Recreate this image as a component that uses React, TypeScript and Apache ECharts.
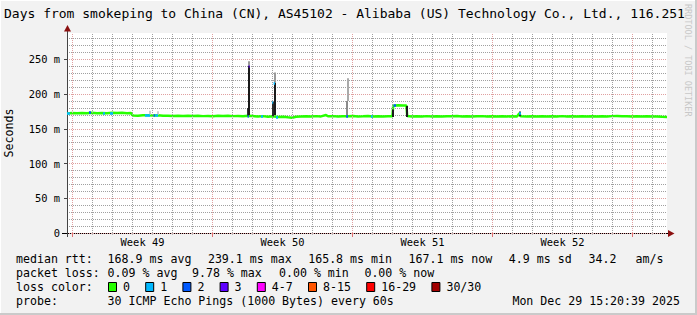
import React, { useEffect, useRef } from "react";
import * as echarts from "echarts";

const MONO = "'DejaVu Sans Mono', 'Liberation Mono', monospace";

const TITLE = "Days from smokeping to China (CN), AS45102 - Alibaba (US) Technology Co., Ltd., 116.251";
const WATERMARK = "RRDTOOL / TOBI OETIKER";

// x axis in days since the left edge of the plot (30 days shown)
const weekLabels = ["Week 49", "Week 50", "Week 51", "Week 52"];
const weekLabelDays = [3.775, 10.775, 17.775, 24.775];
const weekStartDays = [0.275, 7.275, 14.275, 21.275, 28.275];
const dayLineDays = [
  1.275, 2.275, 3.275, 4.275, 5.275, 6.275, 8.275, 9.275,
  10.275, 11.275, 12.275, 13.275, 15.275, 16.275, 17.275, 18.275, 19.275,
  20.275, 22.275, 23.275, 24.275, 25.275, 26.275, 27.275, 29.275,
];
const allDayTicks = [
  0.275, 1.275, 2.275, 3.275, 4.275, 5.275, 6.275, 7.275, 8.275, 9.275,
  10.275, 11.275, 12.275, 13.275, 14.275, 15.275, 16.275, 17.275, 18.275, 19.275,
  20.275, 21.275, 22.275, 23.275, 24.275, 25.275, 26.275, 27.275, 28.275, 29.275,
];

// median RTT (ms)
const rttDays = [
  0.0, 0.25, 0.5, 0.75, 1.0, 1.25, 1.5, 1.75, 2.0, 2.25, 2.5, 2.75, 3.0, 3.2, 3.25, 3.3,
  3.55, 3.8, 4.05, 4.3, 4.55, 4.8, 5.05, 5.3, 5.55, 5.8, 6.05, 6.3, 6.55, 6.8, 7.05, 7.3,
  7.55, 7.8, 8.05, 8.3, 8.55, 8.8, 9.05, 9.3, 9.55, 9.8, 10.05, 10.3, 10.55, 10.8, 11.05,
  11.25, 11.45, 11.7, 11.95, 12.2, 12.45, 12.7, 12.95, 13.05, 13.3, 13.55, 13.8, 14.05,
  14.3, 14.55, 14.8, 15.05, 15.3, 15.55, 15.8, 16.05, 16.27, 16.31, 16.55, 16.8, 16.97,
  17.01, 17.25, 17.5, 17.75, 18.0, 18.25, 18.5, 18.75, 19.0, 19.25, 19.5, 19.75, 20.0,
  20.25, 20.5, 20.75, 21.0, 21.25, 21.5, 21.75, 22.0, 22.25, 22.5, 22.62, 22.68, 23.0,
  23.25, 23.5, 23.75, 24.0, 24.25, 24.5, 24.75, 25.0, 25.25, 25.5, 25.75, 26.0, 26.25,
  26.5, 26.75, 27.0, 27.25, 27.5, 27.75, 28.0, 28.25, 28.5, 28.75, 29.0, 29.25, 29.5,
  29.75, 30.0,
];
const rttMedian = [
  172.2, 172.8, 172.3, 172.9, 172.6, 173.2, 172.5, 172.8, 172.4, 173.0, 172.7, 173.1, 172.6, 172.9, 170.5, 169.2,
  169.0, 169.4, 169.7, 169.3, 169.6, 168.8, 169.0, 168.6, 168.9, 168.5, 168.8, 168.4, 168.7, 168.3, 168.6, 168.2,
  168.7, 168.4, 168.8, 168.3, 168.6, 168.2, 168.8, 168.4, 167.6, 168.3, 167.5, 168.0, 166.9, 167.4, 166.6,
  166.0, 167.5, 167.9, 168.2, 167.8, 168.3, 167.9, 169.8, 168.1, 168.3, 167.9, 168.2, 168.0,
  168.4, 167.8, 168.1, 168.6, 167.9, 168.2, 167.8, 168.1, 168.0, 183.2, 183.8, 183.5, 183.6,
  168.5, 167.9, 168.2, 167.8, 168.3, 167.9, 168.1, 167.7, 168.2, 168.0, 168.4, 167.8, 168.1,
  167.6, 168.0, 168.3, 167.9, 168.2, 167.7, 168.1, 167.8, 168.2, 167.9, 172.5, 168.0, 167.7,
  168.1, 167.8, 168.2, 167.6, 168.0, 167.8, 168.3, 167.9, 168.1, 167.7, 168.2, 167.8, 168.0,
  167.6, 168.1, 167.9, 168.3, 168.5, 168.0, 168.2, 167.8, 168.1, 167.7, 168.0, 167.6, 167.9,
  167.3, 167.1,
];

// smoke (spread of the pings), one vertical stroke per entry
const smokeDays = [4.15, 4.55, 9.035, 9.1, 9.1, 10.285, 10.365, 10.365, 13.965, 14.015, 16.28, 16.985, 22.65];
const smokeLow = [170.2, 170.2, 169.0, 170.0, 240.5, 168.0, 170.0, 216.0, 168.0, 190.0, 167.0, 167.0, 168.0];
const smokeHigh = [176.0, 175.5, 180.0, 240.5, 247.5, 189.0, 216.0, 231.0, 190.0, 223.0, 178.0, 183.0, 175.0];
const smokeShade = ["#cccccc", "#cccccc", "#333333", "#1a1a1a", "#9a9a9a", "#2a2a2a", "#1a1a1a", "#9a9a9a", "#8a8a8a", "#aaaaaa", "#1a1a1a", "#1a1a1a", "#333333"];

// median segments coloured by packet loss class (index into lossColors)
const markStart = [0.0, 1.1, 1.8, 2.15, 3.9, 4.33, 4.42, 9.03, 9.08, 9.7, 10.26, 10.33, 10.45, 13.96, 15.2, 16.33, 22.6];
const markEnd = [0.15, 1.2, 1.9, 2.3, 4.15, 4.4, 4.55, 9.09, 9.13, 9.8, 10.31, 10.4, 10.55, 14.05, 15.28, 16.45, 22.7];
const markMs = [172.4, 173.2, 172.6, 172.8, 169.6, 169.6, 169.5, 168.5, 240.0, 168.4, 189.0, 216.0, 167.2, 168.3, 168.6, 183.4, 173.0];
const markLoss = [1, 2, 1, 1, 1, 2, 1, 2, 3, 1, 1, 1, 1, 2, 1, 2, 1];

const yTickStep = 50;
const yMinorStep = 10;
const yMax = 288;

const rttStatValues = ["168.9", "239.1", "165.8", "167.1", "4.9"];
const rttStatNames = ["ms avg", "ms max", "ms min", "ms now", "ms sd"];
const amsValue = "34.2";
const lossStatValues = ["0.09", "9.78", "0.00", "0.00"];
const lossStatNames = ["% avg", "% max", "% min", "% now"];
const lossLabels = ["0", "1", "2", "3", "4-7", "8-15", "16-29", "30/30"];
const lossColors = ["#26ff00", "#00b8ff", "#0059ff", "#5e00ff", "#ff00ff", "#ff5500", "#ff0000", "#a10000"];
const probeText = "30 ICMP Echo Pings (1000 Bytes) every 60s";
const dateText = "Mon Dec 29 15:20:39 2025";

const GRID_GRAY = "#a0a0a0";
const GRID_RED = "#e0a0a0";

function txt(text: string, x: number, y: number, size: number, extra: any = {}) {
  return {
    type: "text",
    x,
    y,
    silent: true,
    z: 100,
    style: {
      text,
      fontSize: size,
      fontFamily: MONO,
      fill: extra.fill || "#000",
      align: extra.align || "left",
      textAlign: extra.align || "left",
      verticalAlign: "middle",
      textVerticalAlign: "middle",
    },
    rotation: extra.rotation || 0,
  };
}

export default function App() {
  const ref = useRef<HTMLDivElement>(null);

  useEffect(() => {
    if (!ref.current) return;
    const chart = echarts.init(ref.current, null, { renderer: "svg" });

    const legendSize = 11.6;
    const g: any[] = [];
    g.push(txt(TITLE, 4, 13, 13));
    g.push(txt(WATERMARK, 688, 4, 8.5, { fill: "#c8c8c8", rotation: -Math.PI / 2 }));

    // row 1
    const r1 = 259;
    g.push(txt("median rtt:", 16, r1, legendSize));
    const r1x = [107.6, 207.9, 308.2, 408.5, 508.8];
    rttStatValues.forEach((v, i) => g.push(txt(v + " " + rttStatNames[i], r1x[i], r1, legendSize)));
    g.push(txt(amsValue, 588.5, r1, legendSize));
    g.push(txt("am/s", 635.6, r1, legendSize));
    // row 2
    const r2 = 273;
    g.push(txt("packet loss:", 16, r2, legendSize));
    const r2x = [107.6, 192, 279, 364.4];
    lossStatValues.forEach((v, i) => g.push(txt(v + " " + lossStatNames[i], r2x[i], r2, legendSize)));
    // row 3
    const r3 = 287;
    g.push(txt("loss color:", 16, r3, legendSize));
    let bx = 108;
    lossLabels.forEach((lab, i) => {
      g.push({
        type: "rect",
        silent: true,
        z: 100,
        shape: { x: bx + 0.5, y: r3 - 4.5, width: 8, height: 9 },
        style: { fill: lossColors[i], stroke: "#000", lineWidth: 1 },
      });
      g.push(txt(lab, bx + 15, r3, legendSize));
      bx = bx + 15 + lab.length * 7.0 + 15.2;
    });
    // row 4
    const r4 = 301;
    g.push(txt("probe:", 16, r4, legendSize));
    g.push(txt(probeText, 107.6, r4, legendSize));
    g.push(txt(dateText, 512.4, r4, legendSize));

    // axis extensions and arrows
    g.push({ type: "line", silent: true, z: 90, shape: { x1: 67.5, y1: 33, x2: 67.5, y2: 28 }, style: { stroke: "#444", lineWidth: 1 } });
    g.push({ type: "line", silent: true, z: 90, shape: { x1: 67.5, y1: 233, x2: 67.5, y2: 237 }, style: { stroke: "#444", lineWidth: 1 } });
    g.push({ type: "line", silent: true, z: 90, shape: { x1: 62, y1: 233.5, x2: 67, y2: 233.5 }, style: { stroke: "#000", lineWidth: 1 } });
    g.push({ type: "line", silent: true, z: 90, shape: { x1: 667, y1: 233.5, x2: 669, y2: 233.5 }, style: { stroke: "#000", lineWidth: 1 } });
    g.push({ type: "polygon", silent: true, z: 91, shape: { points: [[64, 31.5], [67.5, 25], [71, 31.5]] }, style: { fill: "#8b1010" } });
    g.push({ type: "polygon", silent: true, z: 91, shape: { points: [[668, 230], [674.5, 233.5], [668, 237]] }, style: { fill: "#8b1010" } });

    // 3D border of the image
    g.push({ type: "rect", silent: true, z: 95, shape: { x: 0, y: 0, width: 697, height: 1 }, style: { fill: "#ffffff" } });
    g.push({ type: "rect", silent: true, z: 95, shape: { x: 0, y: 0, width: 1, height: 315 }, style: { fill: "#ffffff" } });
    g.push({ type: "rect", silent: true, z: 95, shape: { x: 0, y: 313, width: 697, height: 2 }, style: { fill: "#cacaca" } });
    g.push({ type: "rect", silent: true, z: 95, shape: { x: 695, y: 0, width: 2, height: 315 }, style: { fill: "#cacaca" } });

    const nearestWeek = (v: number) => {
      for (let i = 0; i < weekLabelDays.length; i++) {
        if (Math.abs(weekLabelDays[i] - v) < 0.01) return weekLabels[i];
      }
      return "";
    };

    const lossSegs: any[] = lossColors.map(() => [] as any[]);
    markStart.forEach((s, i) => {
      lossSegs[markLoss[i]].push({ coords: [[s, markMs[i]], [markEnd[i], markMs[i]]] });
    });

    const vGridLines = [
      ...dayLineDays.map((d) => ({ xAxis: d, lineStyle: { color: GRID_GRAY, width: 1, type: [1, 1], opacity: 1 } })),
      ...weekStartDays.map((d) => ({ xAxis: d, lineStyle: { color: GRID_RED, width: 1, type: [1, 1], opacity: 1 } })),
    ];

    const option: any = {
      animation: false,
      backgroundColor: "#f2f2f2",
      textStyle: { fontFamily: MONO },
      grid: {
        left: 67,
        right: 30,
        top: 33,
        bottom: 82,
        show: true,
        z: -1,
        backgroundColor: "#ffffff",
        borderWidth: 0,
        containLabel: false,
        outerBoundsMode: "none",
      },
      xAxis: [
        {
          type: "value",
          min: 0,
          max: 30,
          position: "bottom",
          z: 1,
          axisLine: { show: true, onZero: false, lineStyle: { color: "#000", width: 1 } },
          axisTick: { show: true, customValues: allDayTicks, length: 2, lineStyle: { color: "#bbbbbb" } },
          axisLabel: { show: false },
          splitLine: { show: false },
        },
        {
          type: "value",
          min: 0,
          max: 30,
          position: "bottom",
          z: 2,
          axisLine: { show: false, onZero: false },
          axisTick: { show: true, customValues: weekStartDays, length: 4, lineStyle: { color: "#e07070" } },
          axisLabel: {
            show: true,
            customValues: weekLabelDays,
            formatter: (v: number) => nearestWeek(v),
            fontSize: 10.4,
            fontFamily: MONO,
            color: "#000",
            margin: 4,
          },
          splitLine: { show: false },
        },
      ],
      yAxis: [
        {
          type: "value",
          min: 0,
          max: yMax,
          interval: yMinorStep,
          position: "left",
          z: 1,
          axisLine: { show: false },
          axisTick: { show: false },
          axisLabel: { show: false },
          splitLine: { show: true, showMaxLine: false, lineStyle: { color: GRID_GRAY, width: 1, type: [1, 1] } },
        },
        {
          type: "value",
          min: 0,
          max: yMax,
          interval: yTickStep,
          position: "left",
          z: 2,
          name: "Seconds",
          nameLocation: "middle",
          nameRotate: 90,
          nameGap: 52,
          nameTextStyle: { fontSize: 11.6, fontFamily: MONO, color: "#000" },
          axisLine: { show: true, onZero: false, lineStyle: { color: "#444", width: 1 } },
          axisTick: { show: true, length: 3, lineStyle: { color: "#444" } },
          axisLabel: {
            fontSize: 10.4,
            fontFamily: MONO,
            color: "#000",
            margin: 7,
            showMaxLabel: false,
            formatter: (v: number) => (v === 0 ? "0" : v + " m"),
          },
          splitLine: { show: true, showMaxLine: false, lineStyle: { color: GRID_RED, width: 1, type: [1, 1] } },
        },
      ],
      series: [
        {
          type: "line",
          name: "grid",
          xAxisIndex: 0,
          yAxisIndex: 1,
          data: [],
          silent: true,
          z: 1,
          markLine: {
            silent: true,
            symbol: ["none", "none"],
            label: { show: false },
            emphasis: { disabled: true },
            animation: false,
            lineStyle: { color: GRID_GRAY, width: 1, type: [1, 1], opacity: 1 },
            data: vGridLines,
          },
        },
        {
          type: "line",
          name: "median",
          xAxisIndex: 0,
          yAxisIndex: 1,
          data: rttDays.map((d, i) => [d, rttMedian[i]]),
          showSymbol: false,
          symbol: "none",
          silent: true,
          z: 4,
          lineStyle: { color: lossColors[0], width: 2.5 },
        },
        {
          type: "lines",
          name: "smoke",
          coordinateSystem: "cartesian2d",
          xAxisIndex: 0,
          yAxisIndex: 1,
          silent: true,
          z: 5,
          lineStyle: { width: 2, opacity: 1 },
          data: smokeDays.map((d, i) => ({
            coords: [[d, smokeLow[i]], [d, smokeHigh[i]]],
            lineStyle: { color: smokeShade[i], width: 2, opacity: 1 },
          })),
        },
        ...lossSegs.map((segs, k) => ({
          type: "lines",
          name: "loss" + k,
          coordinateSystem: "cartesian2d",
          xAxisIndex: 0,
          yAxisIndex: 1,
          silent: true,
          z: 6,
          lineStyle: { color: lossColors[k], width: 2.5, opacity: 1 },
          data: segs,
        })),
      ],
      graphic: g,
    };

    chart.setOption(option);
    return () => chart.dispose();
  }, []);

  return (
    <div
      ref={ref}
      style={{ position: "fixed", left: 0, top: 0, width: 697, height: 315 }}
    />
  );
}
